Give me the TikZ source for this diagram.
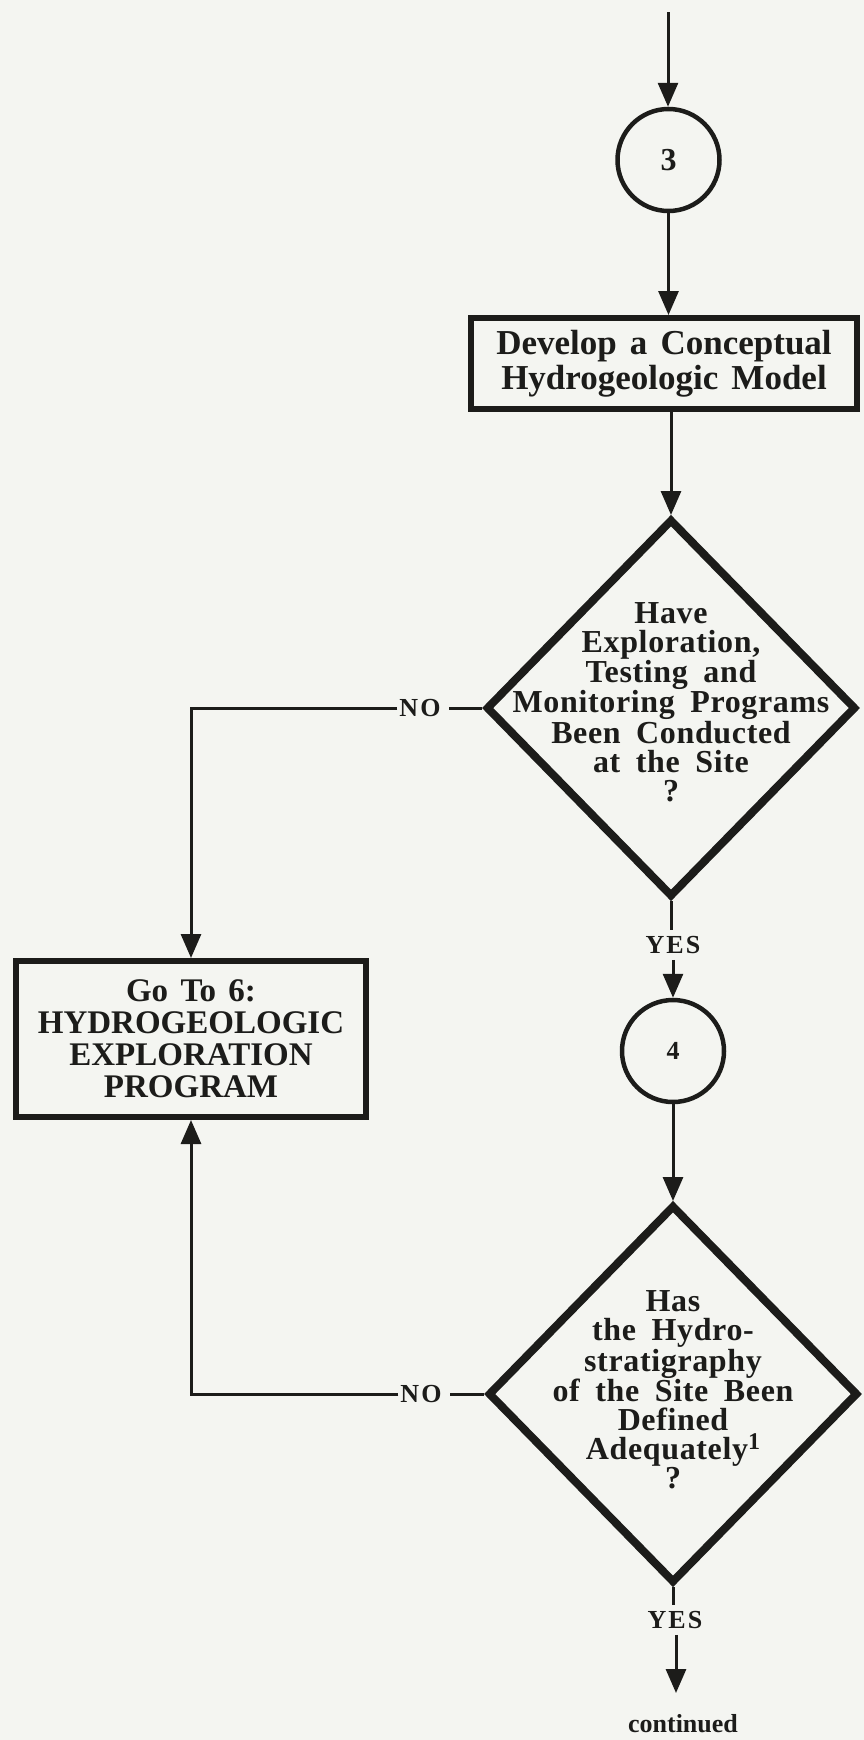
\documentclass[tikz,border=0pt]{standalone}
\usepackage{fontspec}
\setmainfont{Liberation Serif}
\newfontfamily\boxfont{Liberation Serif}[WordSpace=1.5]
\newfontfamily\quesfont{Liberation Serif}[WordSpace=1.8,LetterSpace=2]
\newfontfamily\tagfont{Liberation Serif}[LetterSpace=8]
\usetikzlibrary{shapes.geometric,arrows.meta}
\definecolor{ink}{RGB}{28,28,26}
\definecolor{paper}{RGB}{244,245,241}

\begin{document}
\begin{tikzpicture}[x=1pt,y=-1pt,line join=miter,
  every node/.style={text=ink},
  conn/.style={draw=ink,line width=3pt},
  arr/.style={conn,-{Triangle[length=24pt,width=20pt]}},
  stepbox/.style={draw=ink,line width=6pt,align=center,inner sep=0pt,
    font=\boxfont\bfseries\fontsize{35}{35}\selectfont},
  gotobox/.style={draw=ink,line width=6pt,align=center,inner sep=0pt,
    font=\boxfont\bfseries\fontsize{33}{32}\selectfont},
  query/.style={diamond,draw=ink,line width=8pt,minimum width=370pt,
    minimum height=378pt,inner sep=0pt},
  qtext/.style={align=center,inner sep=0pt,
    font=\quesfont\bfseries\fontsize{32}{29}\selectfont},
  connector/.style={circle,draw=ink,line width=4.5pt,minimum size=102pt,inner sep=0pt},
  tag/.style={inner sep=0pt,font=\tagfont\bfseries\fontsize{26}{26}\selectfont},
  note/.style={inner sep=0pt,font=\bfseries\fontsize{26}{26}\selectfont}]

% page
\fill[paper] (0,0) rectangle (864,1740);
\useasboundingbox (0,0) rectangle (864,1740);

% main column
\coordinate (start) at (668,12);
\node[connector,font=\bfseries\fontsize{32}{32}\selectfont] (c3) at (668.5,160) {3};
\node[stepbox,minimum width=386pt,minimum height=91pt] (b1) at (664,363.5)
  {Develop a Conceptual\\Hydrogeologic Model};
\node[query] (d1) at (671,708) {};
\node[qtext] (q1) at (671,702)
  {Have\\Exploration,\\Testing and\\Monitoring Programs\\Been Conducted\\at the Site\\?};
\node[tag] (yes1) at (673,945) {YES};
\node[connector,font=\bfseries\fontsize{26}{26}\selectfont] (c4) at (673,1051) {4};
\node[query] (d2) at (673,1394) {};
\node[qtext] (q2) at (673,1390)
  {Has\\the Hydro-\\stratigraphy\\of the Site Been\\Defined\\Adequately\raisebox{0.33em}{\fontsize{24}{24}\selectfont 1}\\?};
\node[tag] (yes2) at (675,1620) {YES};
\coordinate (tip) at (676,1693);
\node[note] (cont) at (683,1724) {continued};

% side branch
\node[gotobox,minimum width=350pt,minimum height=156pt] (b2) at (191,1039)
  {Go To 6:\\HYDROGEOLOGIC\\EXPLORATION\\PROGRAM};
\node[tag] (no1) at (420,708) {NO};
\node[tag] (no2) at (421,1394) {NO};

% connectors
\draw[arr] (start) -- (start |- c3.north);
\draw[arr] (c3.south) -- (c3.south |- b1.north);
\draw[arr] (d1.north |- b1.south) -- (d1.north);
\draw[conn] (d1.south) -- ([yshift=6pt]yes1.north -| d1.south);
\draw[arr] ([yshift=-6pt]yes1.south -| c4.north) -- (c4.north);
\draw[arr] (c4.south) -- (c4.south |- d2.north);
\draw[conn] (d2.south) -- ([yshift=6pt]yes2.north -| d2.south);
\draw[arr] ([yshift=-6pt]yes2.south -| tip) -- (tip);
\draw[conn] (d1.west) -- ([xshift=8pt]no1.east);
\draw[arr] ([xshift=-2pt]no1.west) -| (b2.north);
\draw[conn] (d2.west) -- ([xshift=8pt]no2.east);
\draw[arr] ([xshift=-2pt]no2.west) -| (b2.south);
\end{tikzpicture}
\end{document}
